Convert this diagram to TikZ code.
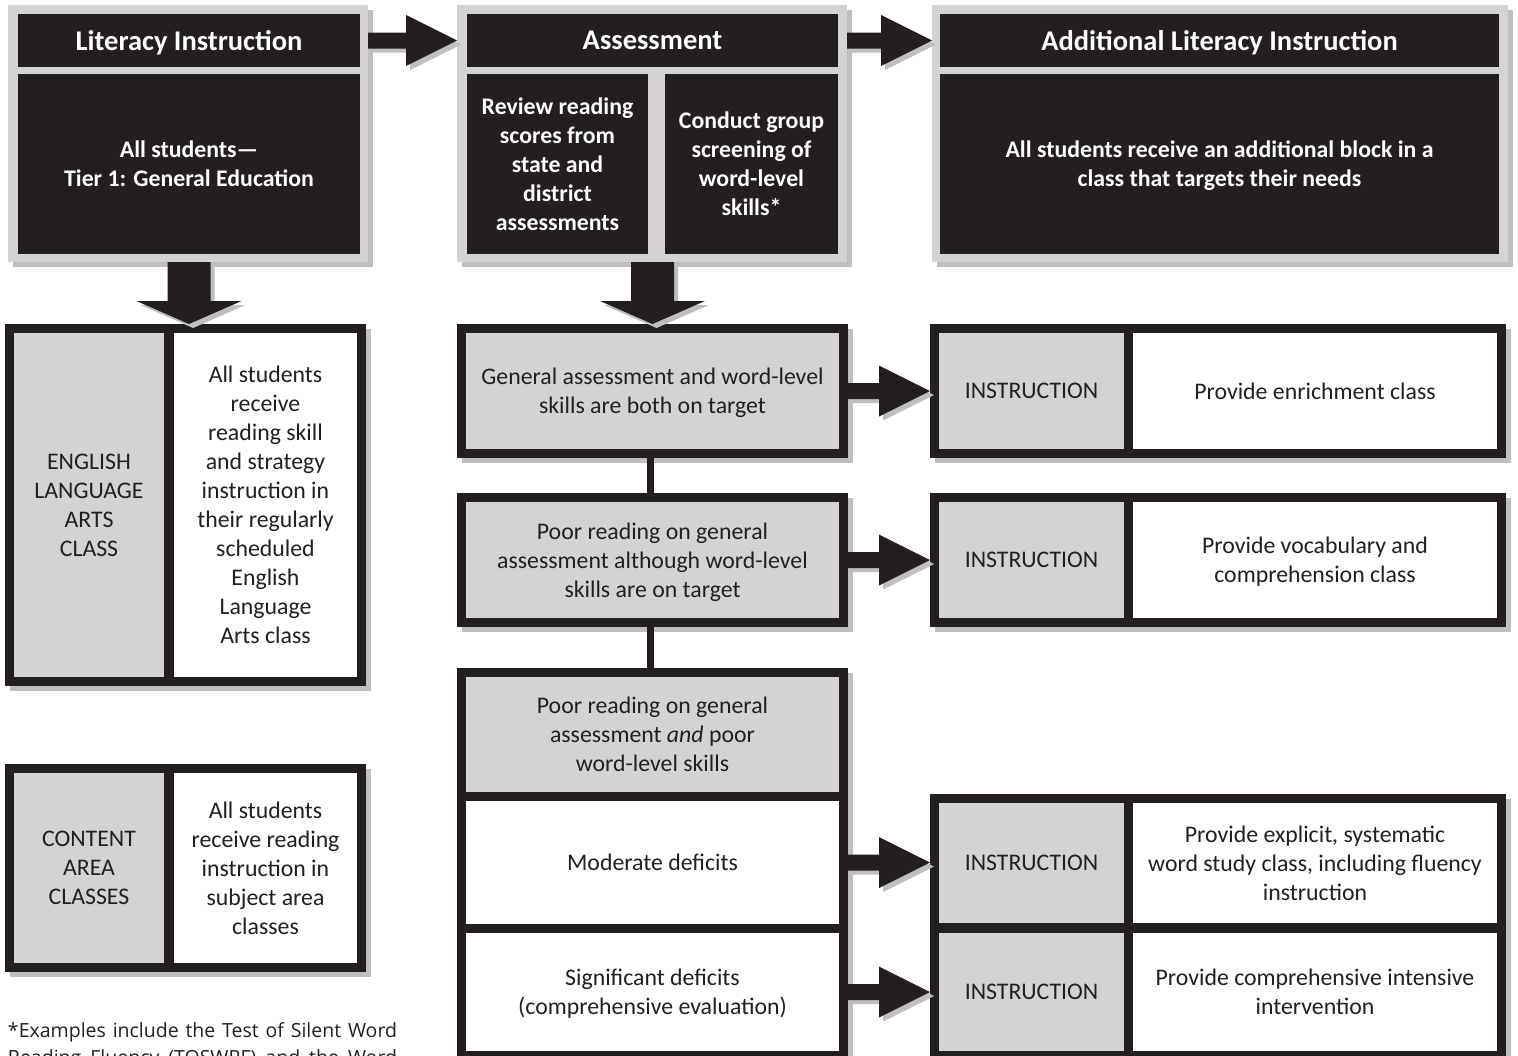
\documentclass[tikz,border=0pt]{standalone}
\usepackage{fontspec}
\setmainfont{Carlito}
\newfontfamily\notefont{Open Sans}
\usetikzlibrary{shadows,calc}
\definecolor{ink}{HTML}{231F20}
\definecolor{panel}{HTML}{D1D3D4}
\definecolor{shade}{HTML}{BDBFC1}
\tikzset{
  sh/.style={general shadow={fill=shade, shadow xshift=5pt, shadow yshift=-5pt}},
  frame/.style={fill=panel, sh},
  hdr/.style={fill=ink, text=white, text depth=0pt, font=\bfseries\fontsize{28.5}{32}\selectfont},
  blk/.style={fill=ink, text=white, align=center, text depth=0pt, font=\bfseries\fontsize{23.8}{29}\selectfont},
  outerbox/.style={fill=ink, sh},
  gcell/.style={fill=panel, text=ink, align=center, text depth=0pt, font=\fontsize{23.8}{29}\selectfont},
  wcell/.style={fill=white, text=ink, align=center, text depth=0pt, font=\fontsize{23.8}{29}\selectfont},
  fat/.style={fill=ink, general shadow={fill=shade, shadow xshift=4pt, shadow yshift=-4pt}},
  link/.style={draw=ink, line width=7.5pt},
}
\newcommand\rightfat[2]{%
  \fill[fat] let \p1=(#1), \p2=(#2) in
   (\x1,{\y2+8pt}) -- ({\x2-51pt},{\y2+8pt}) -- ({\x2-51pt},{\y2+25.5pt}) -- (\x2,\y2)
   -- ({\x2-51pt},{\y2-25.5pt}) -- ({\x2-51pt},{\y2-8pt}) -- (\x1,{\y2-8pt}) -- cycle;}
\newcommand\downfat[2]{%
  \fill[fat] let \p1=(#1), \p2=(#2) in
   ({\x2-21.5pt},\y1) -- ({\x2-21.5pt},{\y2+23pt}) -- ({\x2-52.5pt},{\y2+23pt}) -- (\x2,\y2)
   -- ({\x2+52.5pt},{\y2+23pt}) -- ({\x2+21.5pt},{\y2+23pt}) -- ({\x2+21.5pt},\y1) -- cycle;}
\begin{document}
\begin{tikzpicture}[x=1pt,y=-1pt, every node/.style={inner sep=0pt, outer sep=0pt, rectangle}]
\useasboundingbox (0,0) rectangle (1518,1055);
\fill[white] (0,0) rectangle (1518,1055);

% ---------- top panels ----------
\node[frame, minimum width=360pt, minimum height=257pt] (litF) at (188,133.5) {};
\node[hdr, minimum width=342pt, minimum height=53pt] (litH) at (189,40.5) {Literacy Instruction};
\node[blk, minimum width=342pt, minimum height=180pt] (litB) at (189,164) {All students—\\Tier 1: General Education};

\node[frame, minimum width=390pt, minimum height=257pt] (asF) at (652,133.5) {};
\node[hdr, minimum width=371pt, minimum height=53pt] (asH) at (652.5,40.5) {Assessment};
\node[blk, minimum width=181pt, minimum height=180pt] (asL) at (557.5,164) {Review reading\\scores from\\state and\\district\\assessments};
\node[blk, minimum width=173pt, minimum height=180pt] (asR) at (751.5,164) {Conduct group\\screening of\\word-level\\skills*};

\node[frame, minimum width=576pt, minimum height=257pt] (adF) at (1220,133.5) {};
\node[hdr, minimum width=559pt, minimum height=53pt] (adH) at (1219.5,40.5) {Additional Literacy Instruction};
\node[blk, minimum width=559pt, minimum height=180pt] (adB) at (1219.5,164) {All students receive an additional block in a\\class that targets their needs};

% ---------- left boxes ----------
\node[outerbox, minimum width=361pt, minimum height=362pt] (elaO) at (185.5,505) {};
\node[gcell, minimum width=150pt, minimum height=344pt] (elaG) at (89,505) {ENGLISH\\LANGUAGE\\ARTS\\CLASS};
\node[wcell, minimum width=183pt, minimum height=344pt] (elaW) at (265.5,505) {All students\\receive\\reading skill\\and strategy\\instruction in\\their regularly\\scheduled\\English\\Language\\Arts class};

\node[outerbox, minimum width=361pt, minimum height=208pt] (caO) at (185.5,868) {};
\node[gcell, minimum width=150pt, minimum height=190pt] (caG) at (89,868) {CONTENT\\AREA\\CLASSES};
\node[wcell, minimum width=183pt, minimum height=190pt] (caW) at (265.5,868) {All students\\receive reading\\instruction in\\subject area\\classes};

% ---------- middle column ----------
\node[outerbox, minimum width=391pt, minimum height=134pt] (gaO) at (652.5,391) {};
\node[gcell, minimum width=373pt, minimum height=116pt] (gaI) at (652.5,391) {General assessment and word-level\\skills are both on target};

\node[outerbox, minimum width=391pt, minimum height=134pt] (prO) at (652.5,560) {};
\node[gcell, minimum width=373pt, minimum height=116pt] (prI) at (652.5,560) {Poor reading on general\\assessment although word-level\\skills are on target};

\node[outerbox, minimum width=391pt, minimum height=392pt] (pwO) at (652.5,864) {};
\node[gcell, minimum width=373pt, minimum height=115pt] (pwG) at (652.5,734.5) {Poor reading on general\\assessment \textit{and} poor\\word-level skills};
\node[wcell, minimum width=373pt, minimum height=123pt] (modW) at (652.5,862.5) {Moderate deficits};
\node[wcell, minimum width=373pt, minimum height=118pt] (sigW) at (652.5,992) {Significant deficits\\(comprehensive evaluation)};

% ---------- right column ----------
\node[outerbox, minimum width=576pt, minimum height=134pt] (r1O) at (1218,391) {};
\node[gcell, minimum width=185pt, minimum height=116pt] (r1G) at (1031.5,391) {INSTRUCTION};
\node[wcell, minimum width=364pt, minimum height=116pt] (r1W) at (1315,391) {Provide enrichment class};

\node[outerbox, minimum width=576pt, minimum height=134pt] (r2O) at (1218,560) {};
\node[gcell, minimum width=185pt, minimum height=116pt] (r2G) at (1031.5,560) {INSTRUCTION};
\node[wcell, minimum width=364pt, minimum height=116pt] (r2W) at (1315,560) {Provide vocabulary and\\comprehension class};

\node[outerbox, minimum width=576pt, minimum height=266pt] (r34O) at (1218,927) {};
\node[gcell, minimum width=185pt, minimum height=120pt] (r3G) at (1031.5,863) {INSTRUCTION};
\node[wcell, minimum width=364pt, minimum height=120pt] (r3W) at (1315,863) {Provide explicit, systematic\\word study class, including fluency\\instruction};
\node[gcell, minimum width=185pt, minimum height=118pt] (r4G) at (1031.5,992) {INSTRUCTION};
\node[wcell, minimum width=364pt, minimum height=118pt] (r4W) at (1315,992) {Provide comprehensive intensive\\intervention};

% ---------- connectors ----------
\draw[link] ([xshift=-2pt]gaO.south) -- ([xshift=-2pt]prO.north);
\draw[link] ([xshift=-2pt]prO.south) -- ([xshift=-2pt]pwO.north);

\rightfat{litF.east |- litH.center}{asF.west |- litH.center}
\rightfat{asF.east |- asH.center}{adF.west |- asH.center}
\downfat{litB.south |- litF.south}{litB.south |- elaO.north}
\downfat{gaO.north |- asF.south}{gaO.north}
\rightfat{gaO.east}{r1O.west}
\rightfat{prO.east}{r2O.west}
\rightfat{pwO.east |- modW.center}{r34O.west |- modW.center}
\rightfat{pwO.east |- sigW.center}{r34O.west |- sigW.center}

% ---------- footnote ----------
\node[anchor=north west, align=left, text=ink, font=\notefont\fontsize{19.5}{27}\selectfont] (note) at (8,1023)
  {\makebox[389pt][s]{*Examples include the Test of Silent Word}\\\makebox[389pt][s]{Reading Fluency (TOSWRF) and the Word}};
\end{tikzpicture}
\end{document}
